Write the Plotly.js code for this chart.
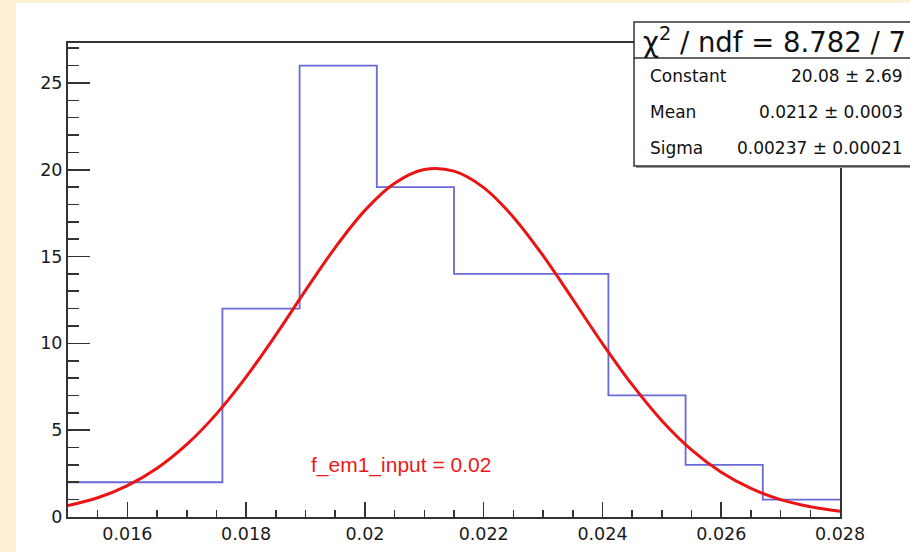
<!DOCTYPE html>
<html>
<head>
<meta charset="utf-8">
<script src="https://cdn.plot.ly/plotly-3.0.1.min.js"></script>
<style>
  html, body { margin: 0; padding: 0; background: #fdf0d4; width: 910px; height: 552px; overflow: hidden; }
  #chart { position: absolute; left: 16px; top: 3px; width: 894px; height: 549px; background: #ffffff; }
</style>
</head>
<body>
<div id="chart"></div>
<script>
// Histogram bin edges and counts
const binEdges = [0.015, 0.0163, 0.0176, 0.0189, 0.0202, 0.0215, 0.0228, 0.0241, 0.0254, 0.0267, 0.028];
const binCounts = [2, 2, 12, 26, 19, 14, 14, 7, 3, 1];

// Gaussian fit curve
const fitX = [0.0150, 0.0155, 0.0160, 0.0165, 0.0170, 0.0175, 0.0180, 0.0185, 0.0190, 0.0195,
              0.0200, 0.0205, 0.0210, 0.0215, 0.0220, 0.0225, 0.0230, 0.0235, 0.0240, 0.0245,
              0.0250, 0.0255, 0.0260, 0.0265, 0.0270, 0.0275, 0.0280];
const fitY = [0.66, 1.11, 1.81, 2.81, 4.18, 5.94, 8.07, 10.49, 13.05, 15.52,
              17.66, 19.22, 20.01, 19.92, 18.97, 17.27, 15.05, 12.54, 9.99, 7.62,
              5.55, 3.87, 2.58, 1.65, 1.00, 0.59, 0.33];

// Tick labels
const xTickVals = [0.016, 0.018, 0.020, 0.022, 0.024, 0.026, 0.028];
const xTickText = ["0.016", "0.018", "0.02", "0.022", "0.024", "0.026", "0.028"];
const yTickVals = [0, 5, 10, 15, 20, 25];
const yTickText = ["0", "5", "10", "15", "20", "25"];

// Stats box text
const statsTitle = "χ<sup>2</sup> / ndf = 8.782 / 7";
const statNames = ["Constant", "Mean", "Sigma"];
const statValues = ["20.08 ± 2.69", "0.0212 ± 0.0003", "0.00237 ± 0.00021"];
const fitLabel = "f_em1_input = 0.02";

const histY = binCounts.concat([binCounts[binCounts.length - 1]]);

const traces = [
  {
    x: binEdges, y: histY, type: 'scatter', mode: 'lines',
    line: { shape: 'hv', color: 'rgb(105,105,215)', width: 1.8 },
    hoverinfo: 'skip', showlegend: false
  },
  {
    x: fitX, y: fitY, type: 'scatter', mode: 'lines',
    line: { shape: 'spline', color: 'rgb(235,20,20)', width: 3 },
    hoverinfo: 'skip', showlegend: false
  }
];

const tickFont = { family: 'DejaVu Sans, sans-serif', size: 17.5, color: '#1a1a1a' };
const axisCommon = {
  showgrid: false, zeroline: false, showline: true, mirror: true,
  linecolor: '#333', linewidth: 2, ticks: 'inside', tickcolor: '#333', tickwidth: 1.6,
  tickfont: tickFont, fixedrange: true
};

const statFont = { family: 'DejaVu Sans, sans-serif', size: 17, color: '#111' };
const rowY = [0.9304, 0.8544, 0.7785];
const annotations = [
  { xref: 'paper', yref: 'paper', x: 0.742, y: 1.0063, xanchor: 'left', yanchor: 'middle',
    text: statsTitle, showarrow: false, font: { family: 'DejaVu Sans, sans-serif', size: 27.5, color: '#111' } },
  { xref: 'x', yref: 'y', x: 0.0206, y: 3.0, xanchor: 'center', yanchor: 'middle',
    text: fitLabel, showarrow: false, font: { family: 'Liberation Sans, Arial, sans-serif', size: 21, color: 'rgb(235,25,25)' } }
];
statNames.forEach((n, i) => {
  annotations.push({ xref: 'paper', yref: 'paper', x: 0.7513, y: rowY[i], xanchor: 'left', yanchor: 'middle',
    text: n, showarrow: false, font: statFont });
  annotations.push({ xref: 'paper', yref: 'paper', x: 1.0842, y: rowY[i], xanchor: 'right', yanchor: 'middle',
    text: statValues[i], showarrow: false, font: statFont });
});

const layout = {
  width: 894, height: 549,
  margin: { l: 52, r: 70, t: 40, b: 35 },
  paper_bgcolor: '#ffffff', plot_bgcolor: '#ffffff',
  xaxis: Object.assign({}, axisCommon, {
    range: [0.015, 0.028], tickvals: xTickVals, ticktext: xTickText, ticklen: 15,
    minor: { dtick: 0.0005, tick0: 0.015, ticklen: 7.5, ticks: 'inside', tickcolor: '#333', tickwidth: 1.6 }
  }),
  yaxis: Object.assign({}, axisCommon, {
    range: [0, 27.3], tickvals: yTickVals, ticktext: yTickText, ticklen: 22,
    minor: { dtick: 1, tick0: 0, ticklen: 11, ticks: 'inside', tickcolor: '#333', tickwidth: 1.6 }
  }),
  shapes: [
    { type: 'rect', xref: 'paper', yref: 'paper', x0: 0.7358, x1: 1.12, y0: 0.7363, y1: 1.04,
      fillcolor: '#999', line: { width: 0 }, layer: 'above' },
    { type: 'rect', xref: 'paper', yref: 'paper', x0: 0.7332, x1: 1.12, y0: 0.7405, y1: 1.0443,
      fillcolor: '#ffffff', line: { color: '#333', width: 1.5 }, layer: 'above' },
    { type: 'line', xref: 'paper', yref: 'paper', x0: 0.7332, x1: 1.12, y0: 0.9684, y1: 0.9684,
      line: { color: '#333', width: 1.5 }, layer: 'above' }
  ],
  annotations: annotations
};

Plotly.newPlot('chart', traces, layout, { staticPlot: true, displayModeBar: false });
</script>
</body>
</html>
